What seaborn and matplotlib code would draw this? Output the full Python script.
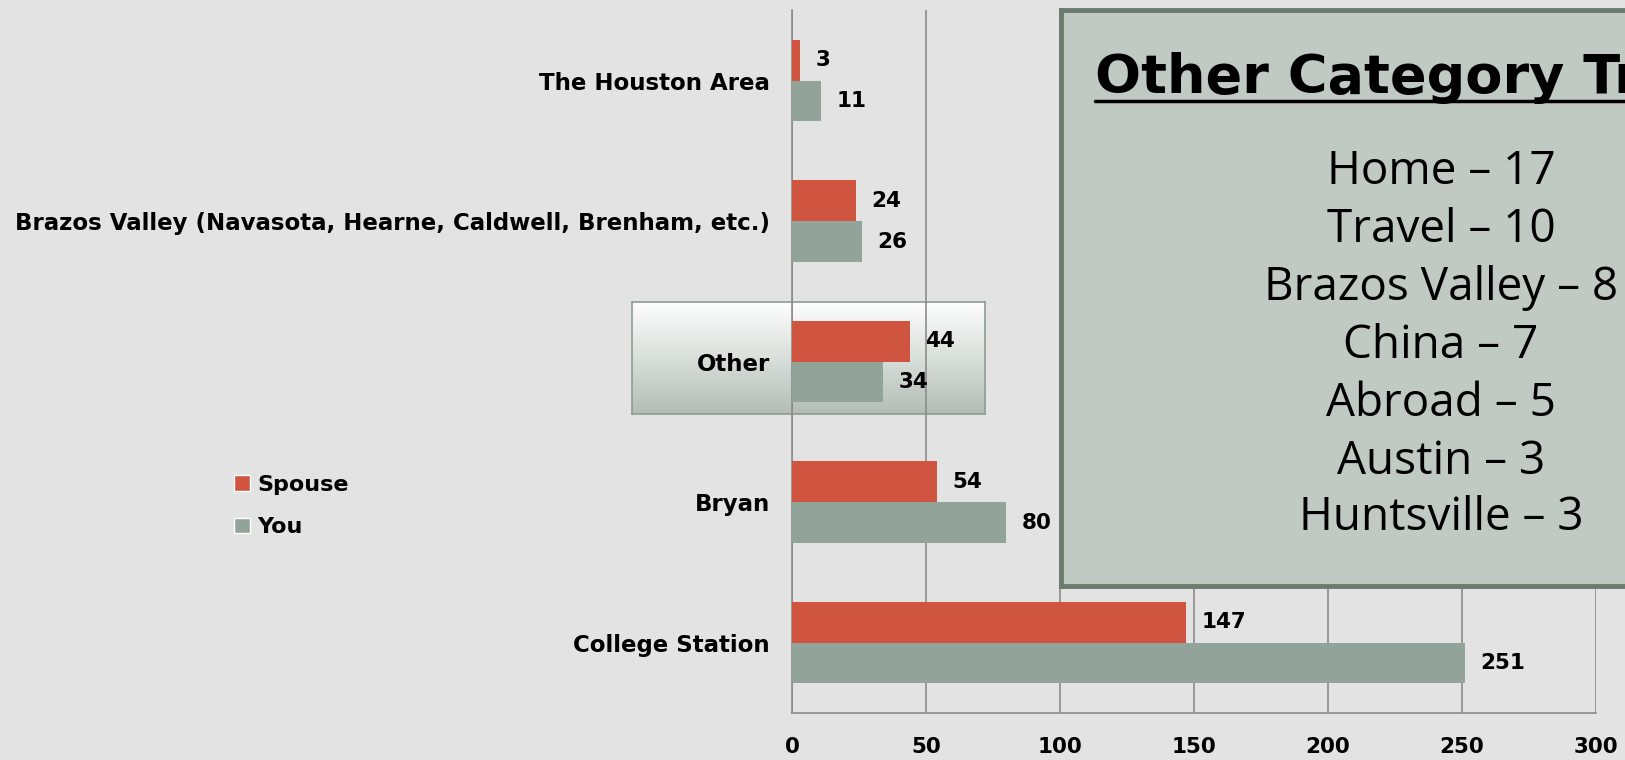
import seaborn as sns
import matplotlib.pyplot as plt
import numpy as np
import pandas as pd
from matplotlib.lines import Line2D
from matplotlib.patches import Patch
from matplotlib.colors import LinearSegmentedColormap

categories = ['The Houston Area',
              'Brazos Valley (Navasota, Hearne, Caldwell, Brenham, etc.)',
              'Other', 'Bryan', 'College Station']
spouse = [3, 24, 44, 54, 147]
you = [11, 26, 34, 80, 251]
x_ticks = [0, 50, 100, 150, 200, 250, 300]

other_items = ['Home', 'Travel', 'Brazos Valley', 'China', 'Abroad', 'Austin', 'Huntsville']
other_counts = [17, 10, 8, 7, 5, 3, 3]

red = '#D05540'
grey = '#92A399'
bg = '#E3E3E3'

df = pd.DataFrame({
    'place': categories * 2,
    'who': ['Spouse'] * len(categories) + ['You'] * len(categories),
    'count': spouse + you,
})

sns.set_style('white')
plt.rcParams['font.family'] = ['DejaVu Sans']
plt.rcParams['text.color'] = 'black'
plt.rcParams['xtick.labelcolor'] = 'black'
plt.rcParams['ytick.labelcolor'] = 'black'

fig = plt.figure(figsize=(16.25, 7.6), dpi=100, facecolor=bg)

# gradient box behind the "Other" label
hl = fig.add_axes([632 / 1625, 1 - 414 / 760, 353 / 1625, 112 / 760], zorder=-1)
grad = np.linspace(0, 1, 100).reshape(-1, 1)
hl.imshow(grad, aspect='auto', extent=[0, 1, 0, 1],
          cmap=LinearSegmentedColormap.from_list('g', ['#FDFDFD', '#D9DFDB', '#B3BDB6']))
hl.set_xticks([])
hl.set_yticks([])
for s in hl.spines.values():
    s.set_color('#8E9C92')
    s.set_linewidth(1.2)

ax = fig.add_axes([792 / 1625, 1 - 713 / 760, 804 / 1625, 702.6 / 760], zorder=0)
ax.set_facecolor('none')
sns.barplot(data=df, y='place', x='count', hue='who', orient='h',
            palette={'Spouse': red, 'You': grey}, width=0.58, gap=0,
            saturation=1, linewidth=0, edgecolor='none', ax=ax, legend=False, zorder=3)

for cont in ax.containers:
    ax.bar_label(cont, padding=11, fontsize=15.5, fontweight='bold', color='black', zorder=4)

ax.set_xlim(0, 300)
ax.set_ylim(4.5, -0.5)
ax.set_xticks(x_ticks)
ax.set_xticklabels([str(t) for t in x_ticks], fontsize=15.5, fontweight='bold')
ax.tick_params(axis='x', length=8, width=1.2, color='#8C8C8C', pad=9, direction='out')
ax.tick_params(axis='y', which='major', length=0, pad=16, labelsize=16.5)
for lab in ax.get_yticklabels():
    lab.set_fontweight('bold')
ax.set_yticks(np.arange(-0.5, 5, 1), minor=True)
ax.tick_params(axis='y', which='minor', length=8, width=1.2, color='#8C8C8C')
ax.xaxis.grid(True, color='#8C8C8C', lw=1.2, zorder=1)
ax.set_axisbelow(True)
ax.set_xlabel('')
ax.set_ylabel('')
for side in ['top', 'right']:
    ax.spines[side].set_visible(False)
for side in ['left', 'bottom']:
    ax.spines[side].set_color('#8C8C8C')
    ax.spines[side].set_linewidth(1.2)

handles = [Patch(facecolor=red, label='Spouse'), Patch(facecolor=grey, label='You')]
fig.legend(handles=handles, loc='center left', bbox_to_anchor=(214 / 1625, 1 - 506 / 760),
           frameon=False, handlelength=0.7, handleheight=0.7, handletextpad=0.35,
           labelspacing=1.0, prop={'weight': 'bold', 'size': 16})

# overlay box with the breakdown of "Other"
box = fig.add_axes([1061 / 1625, 1 - 586 / 760, 0.4, 575.6 / 760], zorder=5)
box.set_facecolor('#C0C9C3')
box.set_xticks([])
box.set_yticks([])
for s in box.spines.values():
    s.set_color('#6B7B6F')
    s.set_linewidth(3.5)

fig.text(1095 / 1625, 1 - 93 / 760, 'Other Category Trends', fontsize=39,
         fontweight='bold', ha='left', va='baseline', zorder=6)
fig.add_artist(Line2D([1095 / 1625, 1.0], [1 - 101 / 760] * 2, color='black', lw=2.5, zorder=6))

line_y = [172, 230, 288, 346, 404, 462, 518]
for name, cnt, yy in zip(other_items, other_counts, line_y):
    fig.text(1441 / 1625, 1 - yy / 760, f'{name} \u2013 {cnt}', fontsize=33,
             family=['Open Sans', 'DejaVu Sans'], fontweight='normal',
             ha='center', va='center', zorder=6)

fig.savefig('out.png', dpi=100, facecolor=bg)
